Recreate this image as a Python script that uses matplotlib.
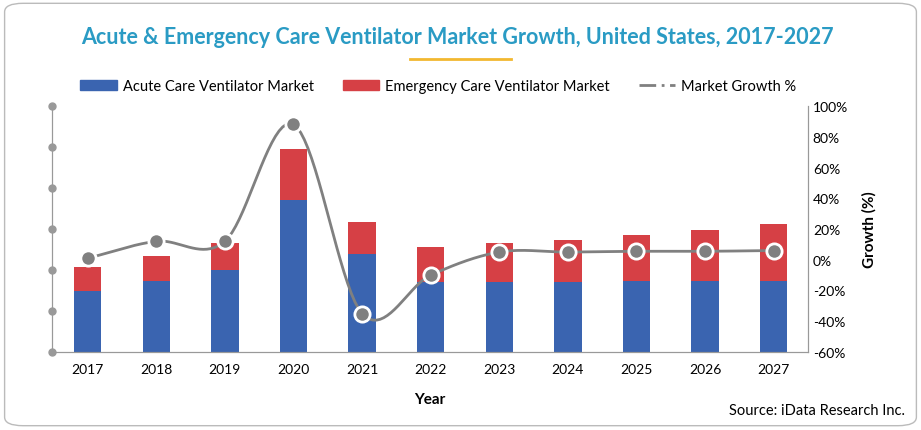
import numpy as np
import matplotlib
matplotlib.use("Agg")
import matplotlib.pyplot as plt
from matplotlib.patches import FancyBboxPatch
from matplotlib.lines import Line2D
from matplotlib.patches import Patch

years = ["2017","2018","2019","2020","2021","2022","2023","2024","2025","2026","2027"]
acute = [1.49,1.73,2.0,3.71,2.39,1.71,1.71,1.71,1.73,1.73,1.73]
total = [2.07,2.34,2.66,4.95,3.17,2.56,2.66,2.73,2.85,2.98,3.12]
emergency = [t-a for t,a in zip(total,acute)]
growth = [1,12,12,88,-35,-10,5,5,5.5,5.5,6]

plt.rcParams['font.family'] = ['Lato','DejaVu Sans']
fig = plt.figure(figsize=(9.21,4.31), dpi=100)
fig.patches.append(FancyBboxPatch((0.005,0.01),0.99,0.98,boxstyle="round,pad=0,rounding_size=0.02",
    transform=fig.transFigure, fill=False, edgecolor="#bbbbbb", lw=1))
ax = fig.add_axes([52/921, 1-353/431, 756/921, 246/431])
x = np.arange(len(years))
blue, red = "#3a64b0", "#d64045"
ax.bar(x, acute, 0.4, color=blue, zorder=2)
ax.bar(x, emergency, 0.4, bottom=acute, color=red, zorder=2)
ax.set_ylim(0,6)
ax.set_xlim(-0.52,10.5)
ax.set_yticks(range(7))
ax.set_yticklabels([])
ax.tick_params(axis='y', length=0)
for v in range(7):
    ax.plot(-0.52, v, 'o', color="#999999", ms=5, clip_on=False, zorder=5)
ax.set_xticks(x)
ax.set_xticklabels(years, fontsize=10)
ax.tick_params(axis='x', length=0, pad=8)
ax.spines['top'].set_visible(False)
for s in ['left','bottom','right']:
    ax.spines[s].set_color("#999999")
ax.set_xlabel("Year", fontsize=11, fontweight='bold', labelpad=12)

ax2 = ax.twinx()
ax2.set_ylim(-60,100)
ax2.set_yticks(range(-60,101,20))
ax2.set_yticklabels([f"{v}%" for v in range(-60,101,20)], fontsize=10)
ax2.tick_params(axis='y', length=0)
ax2.spines['top'].set_visible(False)
for s in ['left','bottom','right']:
    ax2.spines[s].set_color("#999999")
ax2.set_ylabel("Growth (%)", fontsize=11, fontweight='bold', labelpad=10)

g = np.array(growth, float)
P = np.concatenate([[2*g[0]-g[1]], g, [2*g[-1]-g[-2]]])
xs, ys = [], []
t = np.linspace(0,1,20)
for i in range(len(g)-1):
    p0,p1,p2,p3 = P[i],P[i+1],P[i+2],P[i+3]
    yy = 0.5*((2*p1)+(-p0+p2)*t+(2*p0-5*p1+4*p2-p3)*t**2+(-p0+3*p1-3*p2+p3)*t**3)
    xs.extend(i+t); ys.extend(yy)
ax2.plot(xs, ys, color="#808080", lw=2, zorder=3)
ax2.plot(x, g, 'o', color="#808080", mec="white", mew=2, ms=11, zorder=4)

handles = [Patch(color=blue), Patch(color=red),
           Line2D([0],[0], color="#808080", lw=2, ls=(0,(6,2,1,2)))]
fig.legend(handles, ["Acute Care Ventilator Market","Emergency Care Ventilator Market","Market Growth %"],
           loc='center', bbox_to_anchor=(0.476, 1-87/431), ncol=3, frameon=False, fontsize=10.5,
           handlelength=2.5, columnspacing=2, handletextpad=0.4)
fig.text(0.497, 1-38/431, "Acute & Emergency Care Ventilator Market Growth, United States, 2017-2027",
         ha='center', va='center', fontsize=15.5, fontweight='bold', color="#2a9bc4")
fig.add_artist(Line2D([0.445,0.555],[1-60/431]*2, color="#f2b830", lw=2, transform=fig.transFigure))
fig.text(905/921, 1-411/431, "Source: iData Research Inc.", ha='right', va='center', fontsize=10.5)
fig.savefig("out.png", dpi=100)
